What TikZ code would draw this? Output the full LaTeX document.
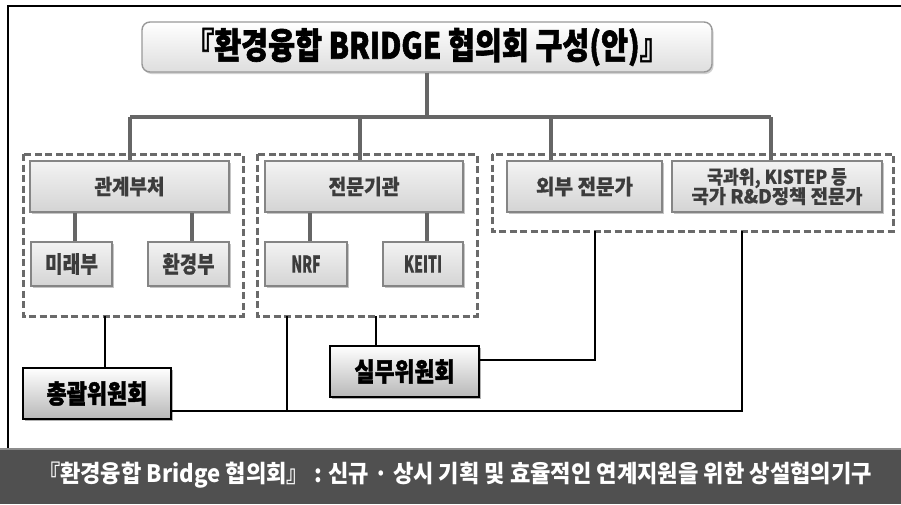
\documentclass[tikz,border=0pt]{standalone}
\usepackage{fontspec}
\usepackage{graphicx}
\setmainfont{Noto Sans CJK KR}
\newfontfamily\krheavy{Noto Sans CJK KR}[BoldFeatures={FakeBold=1.8}]
\newfontfamily\krmid{Noto Sans CJK KR}[BoldFeatures={FakeBold=0.6}]
\usetikzlibrary{shadows}
\definecolor{treegray}{HTML}{666666}
\definecolor{dashgray}{HTML}{6A6A6A}
\definecolor{boxedge}{HTML}{858585}
\definecolor{boxtop}{HTML}{F3F3F3}
\definecolor{boxbot}{HTML}{D4D4D4}
\definecolor{labgray}{HTML}{3C3C3C}
\definecolor{bandgray}{HTML}{505050}
\definecolor{bandedge}{HTML}{8C8C8C}
\newlength\fitlen
\newcommand\fitto[2]{\settowidth\fitlen{#2}\pgfmathsetmacro\fitr{#1/\fitlen}\scalebox{\fitr}[1]{#2}}
\tikzset{
  treeline/.style={draw=treegray,line width=3.4pt},
  thinline/.style={draw=black,line width=1.4pt},
  groupline/.style={draw=dashgray,line width=3pt,dash pattern=on 7pt off 3.5pt},
  unitbox/.style={draw=boxedge,line width=1.5pt,top color=boxtop,bottom color=boxbot,
    inner sep=0pt,text=labgray,font=\krmid\bfseries,
    drop shadow={shadow xshift=1.5pt,shadow yshift=-1.5pt,fill=black!45}},
  titlebox/.style={draw=black!40,line width=1.4pt,rounded corners=8pt,top color=white,bottom color=black!13,
    inner sep=0pt,font=\krheavy\bfseries,
    drop shadow={shadow xshift=1.5pt,shadow yshift=-2pt,fill=black!35}},
  combox/.style={draw=black,line width=1.6pt,top color=white,bottom color=black!28,
    inner sep=0pt,font=\krheavy\bfseries,
    drop shadow={shadow xshift=2pt,shadow yshift=-2pt,fill=black!60}},
}
\begin{document}
\begin{tikzpicture}[x=1pt,y=-1pt]
\useasboundingbox (0,0) rectangle (901,504);
\fill[white] (0,0) rectangle (901,504);
% frame
\draw[line width=2.5pt] (901,6) -- (8,6) -- (8,448);
% band
\fill[bandgray] (0,448) rectangle (901,504);
\draw[bandedge,line width=2pt] (0,449) -- (901,449);
\node[text=white,font=\bfseries\fontsize{24pt}{26pt}\selectfont] (band) at (455,475)
  {\fitto{834pt}{『환경융합 Bridge 협의회』 : 신규 · 상시 기획 및 효율적인 연계지원을 위한 상설협의기구}};
% group boxes
\draw[groupline] (23,154) rectangle (243,316);
\draw[groupline] (257,154) rectangle (477,316);
\draw[groupline] (492,154) rectangle (893,231);
\node[inner sep=0pt,minimum width=220pt,minimum height=162pt] (d1) at (133,235) {};
\node[inner sep=0pt,minimum width=220pt,minimum height=162pt] (d2) at (367,235) {};
\node[inner sep=0pt,minimum width=401pt,minimum height=77pt] (d3) at (692.5,192.5) {};
% title
\node[titlebox,minimum width=570pt,minimum height=50pt] (title) at (427,47)
  {\fontsize{36pt}{38pt}\selectfont\fitto{484pt}{『환경융합 BRIDGE 협의회 구성(안)』}};
% bus
\coordinate (bus) at (427,117);
\coordinate (b1) at (130,117);
\coordinate (b2) at (360,117);
\coordinate (b3) at (551,117);
\coordinate (b4) at (771,117);
% units
\node[unitbox,minimum width=199pt,minimum height=51pt] (gw) at (129.5,186.5)
  {\fontsize{21pt}{22pt}\selectfont\fitto{70pt}{관계부처}};
\node[unitbox,minimum width=198pt,minimum height=51pt] (jm) at (364,186.5)
  {\fontsize{21pt}{22pt}\selectfont\fitto{71pt}{전문기관}};
\node[unitbox,minimum width=155pt,minimum height=51pt] (wb) at (584.5,186.5)
  {\fontsize{21pt}{22pt}\selectfont\fitto{97pt}{외부 전문가}};
\node[unitbox,minimum width=210pt,minimum height=51pt,align=center] (kg) at (777,186.5)
  {\fontsize{19pt}{21pt}\selectfont\fitto{140pt}{국과위, KISTEP 등}\\[-2pt]\fontsize{19pt}{21pt}\selectfont\fitto{171pt}{국가 R\&D정책 전문가}};
\node[unitbox,minimum width=81pt,minimum height=44pt] (mr) at (71.5,264)
  {\fontsize{23pt}{24pt}\selectfont\fitto{53pt}{미래부}};
\node[unitbox,minimum width=81pt,minimum height=44pt] (hk) at (188.5,264)
  {\fontsize{23pt}{24pt}\selectfont\fitto{52pt}{환경부}};
\node[unitbox,minimum width=82pt,minimum height=44pt] (nrf) at (306,264)
  {\fontsize{23pt}{24pt}\selectfont\fitto{29pt}{NRF}};
\node[unitbox,minimum width=80pt,minimum height=44pt] (keiti) at (423,264)
  {\fontsize{23pt}{24pt}\selectfont\fitto{38pt}{KEITI}};
% committees
\node[combox,minimum width=148pt,minimum height=51pt] (cg) at (97,393.5)
  {\fontsize{26pt}{28pt}\selectfont\fitto{101pt}{총괄위원회}};
\node[combox,minimum width=149pt,minimum height=51pt] (sm) at (404.5,371.5)
  {\fontsize{26pt}{28pt}\selectfont\fitto{100pt}{실무위원회}};
% tree lines
\draw[treeline] (title.south) -- (bus);
\draw[treeline] (b1) -- (b4);
\draw[treeline] (b1) -- (b1 |- gw.north);
\draw[treeline] (b2) -- (b2 |- jm.north);
\draw[treeline] (b3) -- (b3 |- wb.north);
\draw[treeline] (b4) -- (b4 |- kg.north);
\draw[treeline] ([xshift=3.5pt]mr.north) -- ([xshift=3.5pt]mr.north |- gw.south);
\draw[treeline] ([xshift=3.5pt]hk.north) -- ([xshift=3.5pt]hk.north |- gw.south);
\draw[treeline] ([xshift=4pt]nrf.north) -- ([xshift=4pt]nrf.north |- jm.south);
\draw[treeline] ([xshift=4pt]keiti.north) -- ([xshift=4pt]keiti.north |- jm.south);
% bottom connections
\coordinate (d1a) at (105,316);
\coordinate (d2a) at (287,316);
\coordinate (d2b) at (376,316);
\coordinate (d3a) at (595,231);
\coordinate (d3b) at (742,231);
\draw[thinline] (d1a) -- (d1a |- cg.north);
\draw[thinline] (d2b) -- (d2b |- sm.north);
\draw[thinline] (d2a) -- ++(0,95);
\draw[thinline] ([yshift=11.5pt]sm.east) -| (d3a);
\draw[thinline] ([yshift=-17.5pt]cg.east) -| (d3b);
\end{tikzpicture}
\end{document}
